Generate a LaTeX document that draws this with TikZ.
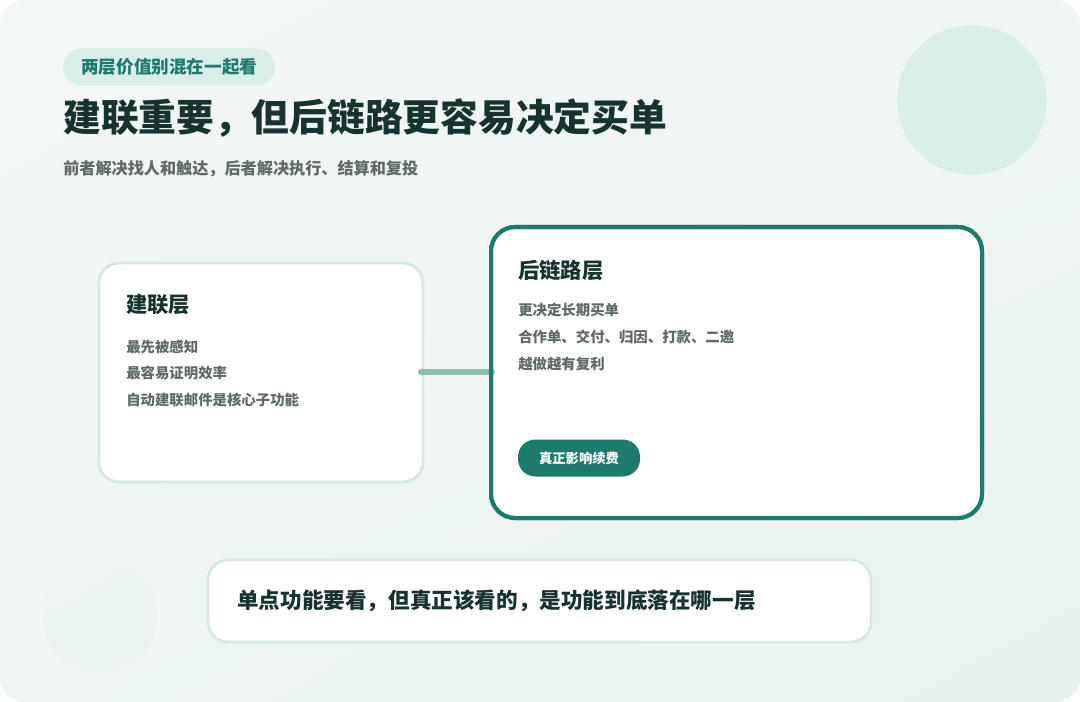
\documentclass[tikz,border=0pt]{standalone}
\usepackage{fontspec}
\usetikzlibrary{shadings}
\setmainfont{Noto Sans CJK SC}
\definecolor{bgA}{HTML}{F4F8F7}
\definecolor{bgB}{HTML}{E8F2EF}
\definecolor{mint}{HTML}{D9EEE8}
\definecolor{faint}{HTML}{EAF4F1}
\definecolor{teal}{HTML}{1D7A6D}
\definecolor{ink}{HTML}{17332F}
\definecolor{gtext}{HTML}{5F6A67}
\definecolor{lborder}{HTML}{D6E9E3}
\definecolor{link}{HTML}{8ABCAF}
\tikzset{
  x=0.75pt, y=-0.75pt,
  card/.style={draw=lborder, line width=2.2pt, fill=white, rounded corners=15pt},
  keycard/.style={draw=teal, line width=3pt, fill=white, rounded corners=18pt},
  cardtitle/.style={anchor=west, inner sep=0pt, text=ink, font=\fontsize{16}{18}\selectfont\bfseries},
  cardline/.style={anchor=west, inner sep=0pt, text=gtext, font=\fontsize{10.8}{13}\selectfont\bfseries},
  connector/.style={draw=link, line width=4.5pt, line cap=round},
}
\begin{document}
\begin{tikzpicture}
\useasboundingbox (0,0) rectangle (1080,702);
\fill[white] (0,0) rectangle (1080,702);
\shade[rounded corners=18pt, upper left=bgA, upper right=bgA!60!bgB, lower left=bgA!50!bgB, lower right=bgB] (0,0) rectangle (1080,702);
% decorative circles
\fill[mint] (972,100) circle (75);
\fill[faint, opacity=0.3] (100,615) circle (58);
% tag
\node[fill=mint, rounded corners=14pt, minimum width=212*0.75pt, minimum height=37*0.75pt, inner sep=0pt] (tag) at (169,67) {};
\node[anchor=west, inner sep=0pt, text=teal, font=\fontsize{13.2}{15}\selectfont\bfseries] (tagtext) at (81,67) {两层价值别混在一起看};
% title
\node[anchor=west, inner sep=0pt, text=ink, font=\fontsize{28.3}{32}\selectfont\bfseries] (title) at (63,118) {建联重要，但后链路更容易决定买单};
\node[anchor=west, inner sep=0pt, text=gtext, font=\fontsize{12.1}{14}\selectfont\bfseries] (subtitle) at (63,169) {前者解决找人和触达，后者解决执行、结算和复投};
% connector endpoints
\coordinate (la) at (421,372);
\coordinate (rb) at (492,372);
% left card
\path[card] (99,263) rectangle (423,482);
\node[cardtitle] (lt) at (126,305) {建联层};
\node[cardline] (l1) at (126,347) {最先被感知};
\node[cardline] (l2) at (126,373) {最容易证明效率};
\node[cardline] (l3) at (126,400) {自动建联邮件是核心子功能};
% right card
\path[keycard] (491,227) rectangle (982,518);
\draw[connector] (la) -- (rb);
\path[keycard, fill=none] (491,227) rectangle (982,518);
\node[cardtitle] (rt) at (518,270) {后链路层};
\node[cardline] (r1) at (518,310) {更决定长期买单};
\node[cardline] (r2) at (518,337) {合作单、交付、归因、打款、二邀};
\node[cardline] (r3) at (518,364) {越做越有复利};
\node[fill=teal, rounded corners=13pt, minimum width=122*0.75pt, minimum height=37*0.75pt, inner sep=0pt, text=white, font=\fontsize{10}{12}\selectfont\bfseries] (btn) at (579,458) {真正影响续费};
% bottom card
\path[card] (208,560) rectangle (871,642);
\node[anchor=west, inner sep=0pt, text=ink, font=\fontsize{16.2}{19}\selectfont\bfseries] (bottom) at (237,601) {单点功能要看，但真正该看的，是功能到底落在哪一层};
\end{tikzpicture}
\end{document}
